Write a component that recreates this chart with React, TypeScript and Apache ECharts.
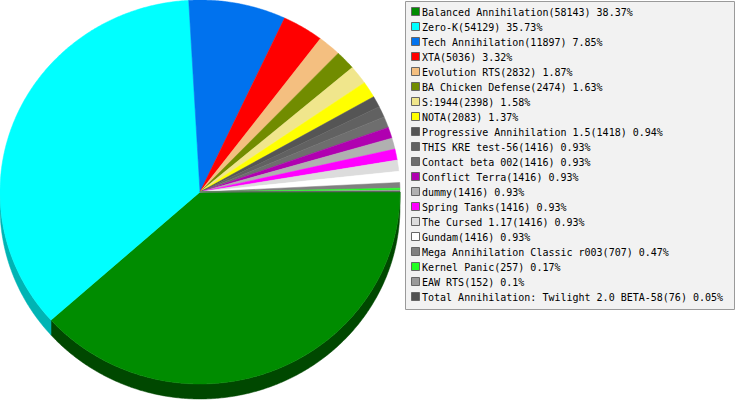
import React, { useEffect, useRef } from "react";
import * as echarts from "echarts";

const names = [
  "Balanced Annihilation",
  "Zero-K",
  "Tech Annihilation",
  "XTA",
  "Evolution RTS",
  "BA Chicken Defense",
  "S:1944",
  "NOTA",
  "Progressive Annihilation 1.5",
  "THIS KRE test-56",
  "Contact beta 002",
  "Conflict Terra",
  "dummy",
  "Spring Tanks",
  "The Cursed 1.17",
  "Gundam",
  "Mega Annihilation Classic r003",
  "Kernel Panic",
  "EAW RTS",
  "Total Annihilation: Twilight 2.0 BETA-58",
];

const values = [
  58143, 54129, 11897, 5036, 2832, 2474, 2398, 2083, 1418, 1416, 1416, 1416,
  1416, 1416, 1416, 1416, 707, 257, 152, 76,
];

// style constants
const colors = [
  "#008c00", "#00ffff", "#0072ee", "#ff0000", "#f4bf80", "#718c00",
  "#f0e68c", "#ffff00", "#555555", "#616161", "#6e6e6e", "#b000b0",
  "#b0b0b0", "#ff00ff", "#dcdcdc", "#ffffff", "#808080", "#22ff22",
  "#999999", "#505050",
];
const sideColors = [
  "#004800", "#00b4b4", "#004f a6", "#b00000", "#aa8558", "#4e6100",
  "#a8a062", "#b0b000", "#3a3a3a", "#444444", "#4d4d4d", "#7a007a",
  "#7a7a7a", "#b000b0", "#9a9a9a", "#b0b0b0", "#595959", "#18b018",
  "#6a6a6a", "#383838",
].map((c) => c.replace(" ", ""));

const total = values.reduce((a, b) => a + b, 0);
const starts: number[] = [];
{
  let acc = 0;
  for (const v of values) {
    starts.push(acc);
    acc += v;
  }
}

const CX = 200;
const CY = 192;
const RX = 200;
const RY = 192;
const DEPTH = 15;

function arc(a1: number, a2: number, dy: number): number[][] {
  const steps = Math.max(2, Math.ceil((a2 - a1) / (Math.PI / 360)));
  const pts: number[][] = [];
  for (let k = 0; k <= steps; k++) {
    const a = a1 + ((a2 - a1) * k) / steps;
    pts.push([CX + RX * Math.cos(a), CY + RY * Math.sin(a) + dy]);
  }
  return pts;
}

function angles(i: number, v: number) {
  const a1 = (starts[i] / total) * Math.PI * 2;
  const a2 = a1 + (v / total) * Math.PI * 2;
  return [a1, a2];
}

function pct(v: number) {
  return String(parseFloat(((v / total) * 100).toFixed(2)));
}

export default function App() {
  const ref = useRef<HTMLDivElement>(null);
  useEffect(() => {
    document.body.style.margin = "0";
    const chart = echarts.init(ref.current!, null, { renderer: "svg" });
    const data = values.map((v, i) => [i, v]);

    const legendTop = 1;
    const legendLeft = 405;
    const rowH = 15;
    const firstRow = 12;
    const legendChildren: any[] = [
      {
        type: "rect",
        shape: { x: legendLeft + 0.5, y: legendTop + 0.5, width: 329, height: 308 },
        style: { fill: "#f2f2f2", stroke: "#9a9a9a", lineWidth: 1 },
      },
    ];
    names.forEach((n, i) => {
      const cy = firstRow + i * rowH;
      legendChildren.push({
        type: "rect",
        shape: { x: 411.5, y: cy - 4.5, width: 8, height: 8 },
        style: { fill: colors[i], stroke: "#666666", lineWidth: 1 },
      });
      legendChildren.push({
        type: "text",
        x: 422,
        y: cy,
        style: {
          text: `${n}(${values[i]}) ${pct(values[i])}%`,
          font: "10px 'DejaVu Sans Mono'",
          fill: "#000000",
          verticalAlign: "middle",
          align: "left",
        },
      });
    });

    chart.setOption({
      animation: false,
      backgroundColor: "#ffffff",
      graphic: [{ type: "group", children: legendChildren }],
      series: [
        {
          type: "custom",
          coordinateSystem: "none",
          z: 1,
          data,
          renderItem: (params: any, api: any) => {
            const i = params.dataIndex;
            const v = api.value(1);
            const [a1, a2] = angles(i, v);
            const s = Math.max(a1, 0);
            const e = Math.min(a2, Math.PI);
            if (e <= s) return { type: "group", children: [] };
            const top = arc(s, e, 0);
            const bot = arc(s, e, DEPTH).reverse();
            return {
              type: "polygon",
              shape: { points: top.concat(bot) },
              style: { fill: sideColors[i], stroke: sideColors[i], lineWidth: 0.5 },
            };
          },
        },
        {
          type: "custom",
          coordinateSystem: "none",
          z: 2,
          data,
          renderItem: (params: any, api: any) => {
            const i = params.dataIndex;
            const v = api.value(1);
            const [a1, a2] = angles(i, v);
            const pts = [[CX, CY]].concat(arc(a1, a2, 0));
            return {
              type: "polygon",
              shape: { points: pts },
              style: { fill: colors[i], stroke: colors[i], lineWidth: 0.5 },
            };
          },
        },
      ],
    });
    return () => chart.dispose();
  }, []);
  return <div ref={ref} style={{ width: 737, height: 400 }} />;
}
